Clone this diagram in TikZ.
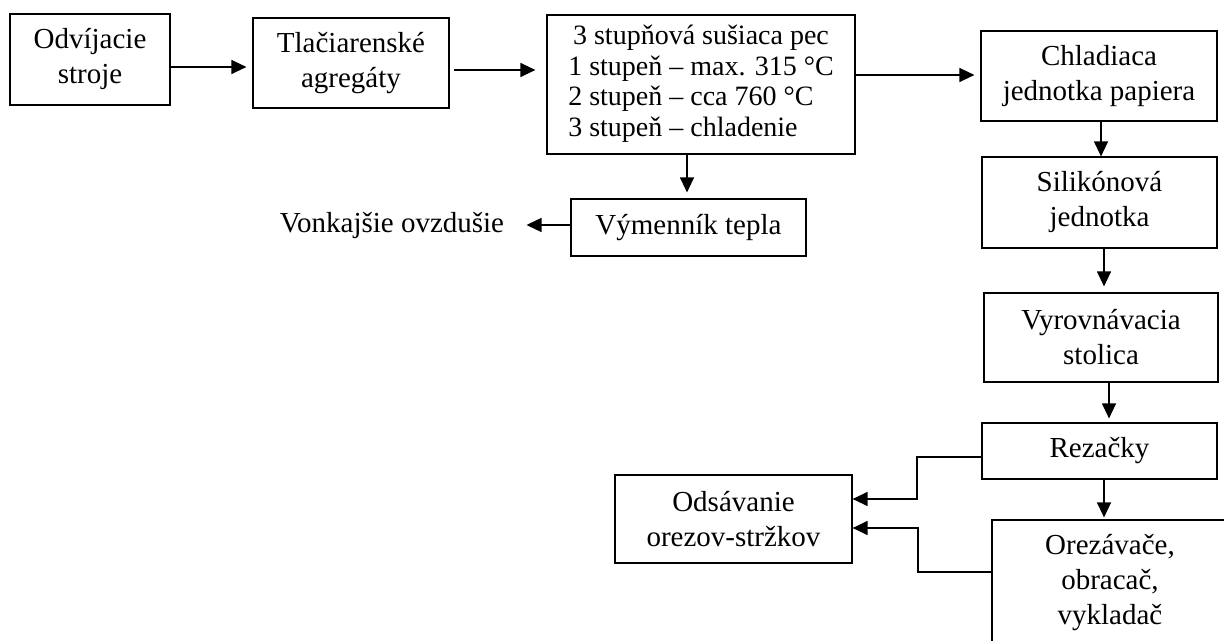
\documentclass[tikz,border=0pt]{standalone}
\usepackage{fontspec}
\setmainfont{Liberation Serif}
\usetikzlibrary{arrows.meta}
\begin{document}
\begin{tikzpicture}[x=0.5pt,y=-0.5pt,
  box/.style={draw, line width=0.6pt, align=center, inner sep=0pt, font=\fontsize{14.5}{17.5}\selectfont},
  txt/.style={inner sep=0pt, font=\fontsize{14.5}{17.5}\selectfont},
  arr/.style={line width=0.65pt, -{Triangle[length=7.5pt,width=7pt]}},
  ln/.style={line width=0.6pt}]
\clip (0,0) rectangle (1224,641);
\fill[white] (0,0) rectangle (1224,641);
\node[box, minimum width=80pt, minimum height=45.5pt] (b1) at (90,59.5) {Odvíjacie\\stroje};
\node[box, minimum width=98pt, minimum height=45pt] (b2) at (351,63) {Tlačiarenské\\agregáty};
\node[box, minimum width=154pt, minimum height=69.5pt] (b3) at (701,84.5)
  {\fontsize{14}{15.2}\selectfont\raisebox{-2pt}{\begin{tabular}{@{}l@{}}\multicolumn{1}{@{}c@{}}{3 stupňová sušiaca pec}\\ 1 stupeň – max. 315 °C\\ 2 stupeň – cca 760 °C\\ 3 stupeň – chladenie\end{tabular}}};
\node[box, minimum width=118pt, minimum height=45pt] (b4) at (1099,76) {Chladiaca\\jednotka papiera};
\node[box, minimum width=117.5pt, minimum height=45.5pt] (b5) at (1099.5,202.5) {Silikónová\\jednotka};
\node[box, minimum width=117pt, minimum height=44.5pt] (b6) at (1101,337.5) {Vyrovnávacia\\stolica};
\node[box, minimum width=117.5pt, minimum height=28pt] (b7) at (1099.5,451) {Rezačky};
\node[box, minimum width=118pt, minimum height=63pt] (b8) at (1110,583) {Orezávače,\\obracač,\\vykladač};
\node[box, minimum width=117.5pt, minimum height=28.5pt] (vym) at (688.5,227.5) {Výmenník tepla};
\node[txt] (von) at (392,225) {Vonkajšie ovzdušie};
\node[box, minimum width=118.5pt, minimum height=44pt] (ods) at (733.5,519) {Odsávanie\\orezov-stržkov};

\draw[arr, shorten >=3pt] (b1.east |- 0,67) -- (b2.west |- 0,67);
\draw[arr, shorten <=2pt, shorten >=5.5pt] (b2.east |- 0,70) -- (b3.west |- 0,70);
\draw[arr, shorten >=3pt] (b3.east |- 0,75) -- (b4.west |- 0,75);
\draw[arr] (b4.south -| 1101,0) -- (b5.north -| 1101,0);
\draw[arr, shorten >=3pt] (b5.south -| 1104,0) -- (b6.north -| 1104,0);
\draw[arr, shorten >=2pt] (b6.south -| 1109,0) -- (b7.north -| 1109,0);
\draw[arr, shorten >=1pt] (b7.south -| 1104,0) -- (b8.north -| 1104,0);
\draw[arr, shorten >=3pt] (b3.south -| 687,0) -- (vym.north -| 687,0);
\draw[arr, shorten >=11pt] (vym.west |- 0,225) -- (von.east |- 0,225);
\draw[arr] (b7.west |- 0,457) -- (917,457) -- (917,499) -- (ods.east |- 0,499);
\draw[arr] (b8.west |- 0,572) -- (918,572) -- (918,528) -- (ods.east |- 0,528);
\end{tikzpicture}
\end{document}
